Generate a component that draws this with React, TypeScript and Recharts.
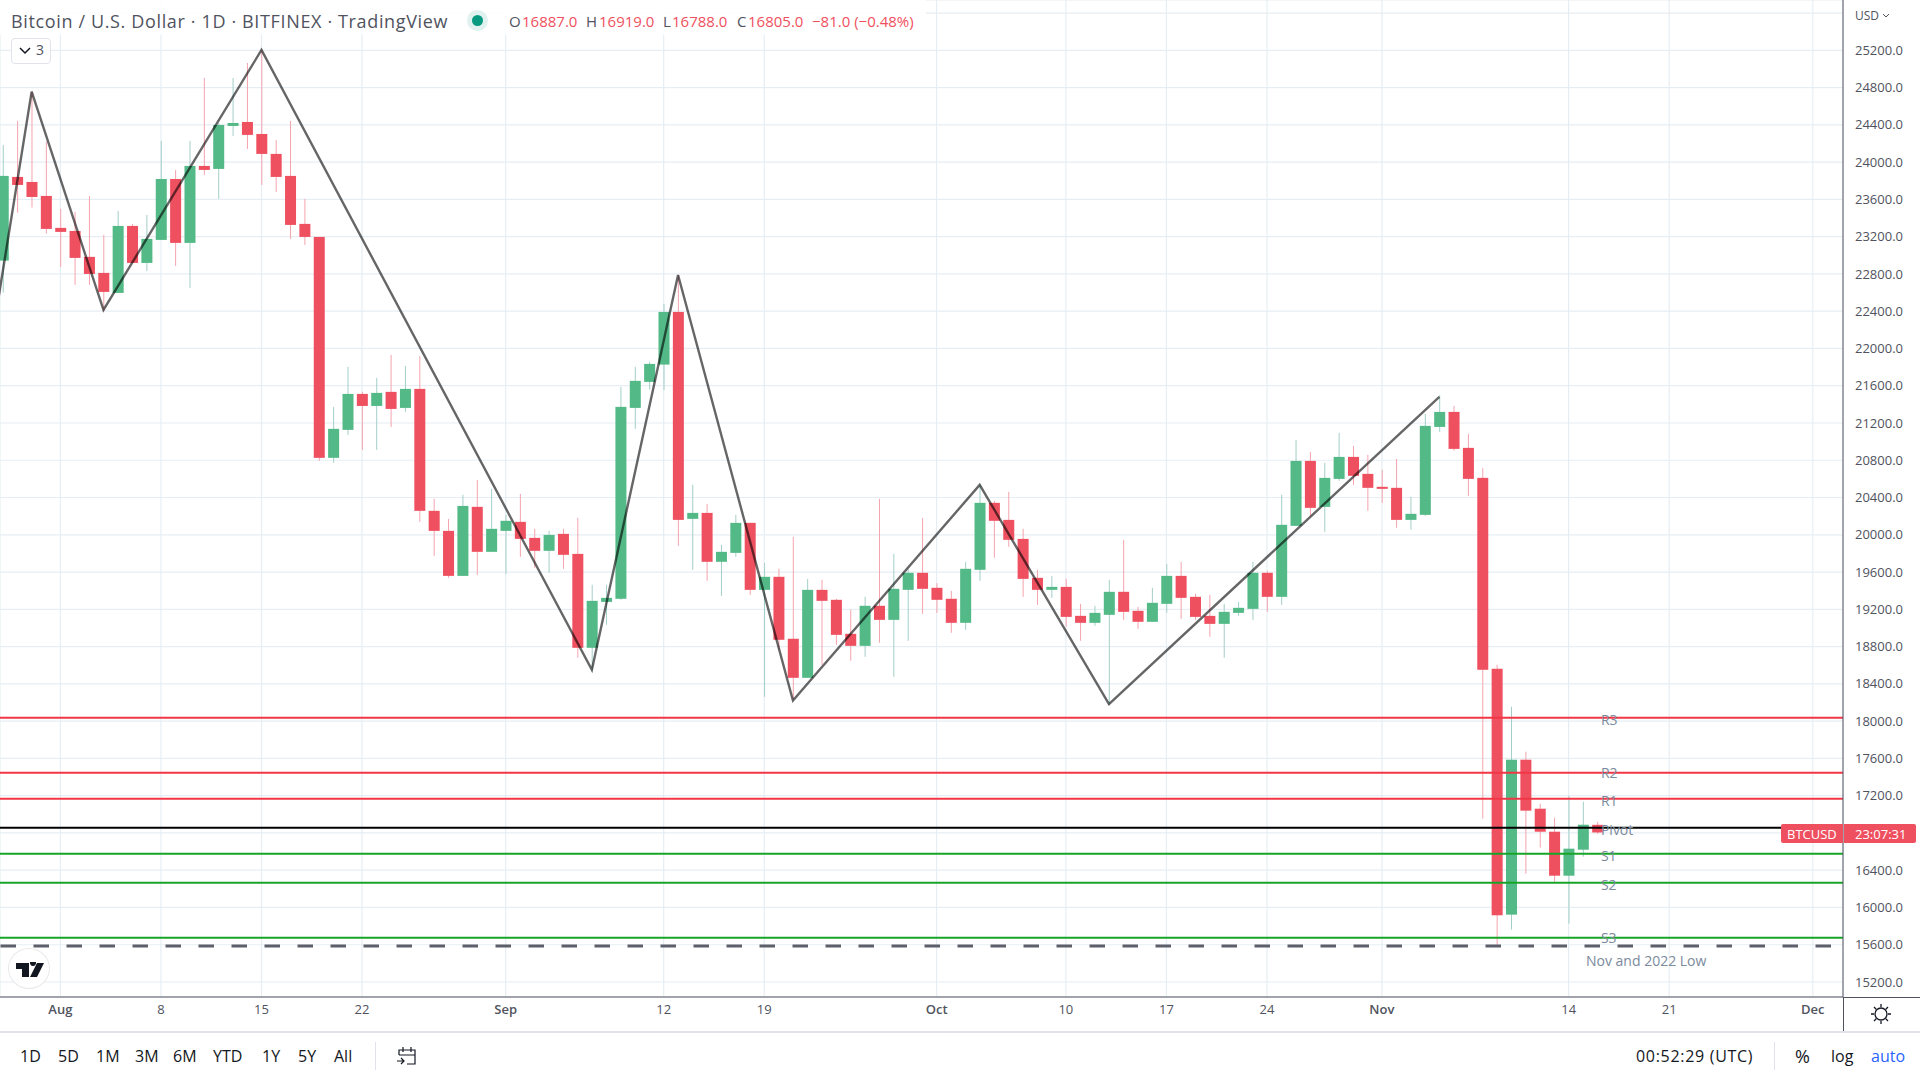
import React from "react";
import {
  ComposedChart,
  Bar,
  Line,
  XAxis,
  YAxis,
  CartesianGrid,
  ReferenceLine,
  ReferenceDot,
} from "recharts";

// day numbers count from 1 Aug 2022
const firstDay = -4;
const opens = [
  22943, 23841, 23787, 23637, 23294, 23261, 22983, 22811, 22596, 23315, 22918, 23165, 23819, 23133, 23959, 23927,
  24388, 24431, 24302, 24088, 23852, 23337, 23197, 20826, 21126, 21512, 21383, 21534, 21362, 21566, 20257, 20042,
  19559, 20300, 19817, 20042, 20139, 19967, 19828, 20010, 19795, 18787, 19280, 19313, 21362, 21641, 21827, 22392,
  20171, 20235, 19710, 19806, 20128, 19409, 19549, 18884, 18465, 19409, 19302, 18937, 18808, 19238, 19087, 19409,
  19592, 19431, 19313, 19055, 19624, 20343, 20160, 19956, 19538, 19409, 19441, 19130, 19055, 19141, 19388, 19184,
  19066, 19259, 19559, 19334, 19130, 19044, 19162, 19205, 19592, 19334, 20096, 20793, 20300, 20600, 20836, 20654,
  20515, 20504, 20160, 20214, 21158, 21319, 20933, 20611, 18562, 15923, 17586, 17060, 16813, 16341, 16620, 16887,
];
const highs = [
  24184, 24442, 24756, 24220, 23498, 23465, 23637, 23219, 23476, 23337, 23433, 24227, 23916, 24227, 24903, 24420,
  24903, 25064, 25204, 24238, 24442, 23605, 23197, 21373, 21802, 21534, 21684, 21931, 21813, 21920, 20386, 20171,
  20429, 20589, 20493, 20214, 20439, 20064, 20042, 20064, 20182, 19463, 19463, 21587, 21802, 21859, 22478, 22789,
  20536, 20332, 19892, 20214, 20128, 19699, 19635, 19978, 19527, 19517, 19313, 19195, 19334, 20386, 19795, 19630,
  20182, 19481, 19399, 19710, 20536, 20364, 20461, 20064, 19624, 19559, 19527, 19259, 19238, 19517, 19946, 19227,
  19431, 19688, 19710, 19366, 19355, 19259, 19280, 19710, 19613, 20429, 21019, 20890, 20772, 21094, 20954, 20858,
  20697, 20815, 20407, 21298, 21500, 21384, 21083, 20718, 18605, 18154, 17672, 17114, 16964, 17200, 17135, 16919,
];
const lows = [
  22600, 23458, 23512, 23233, 22875, 22682, 22682, 22403, 22596, 22918, 22832, 23165, 22886, 22650, 23862, 23605,
  24281, 24141, 23755, 23680, 23176, 23111, 20793, 20772, 21072, 20911, 20911, 21158, 21319, 20139, 19774, 19538,
  19559, 19570, 19817, 19581, 19763, 19645, 19592, 19635, 18680, 18551, 19034, 19302, 21137, 21560, 21555, 19881,
  19624, 19506, 19345, 19763, 19355, 18261, 18765, 18229, 18465, 18605, 18819, 18647, 18690, 18841, 18476, 18862,
  19152, 19163, 18948, 18980, 19506, 19753, 19871, 19334, 19248, 19323, 19016, 18862, 19023, 18175, 19087, 18991,
  19066, 19163, 19098, 19087, 18905, 18680, 19130, 19087, 19173, 19248, 20096, 20203, 20032, 20579, 20536, 20257,
  20343, 20075, 20053, 20203, 21105, 20901, 20418, 16953, 15583, 15762, 16363, 16642, 16277, 15826, 16545, 16788,
];
const closes = [
  23852, 23755, 23626, 23283, 23251, 22972, 22800, 22607, 23315, 22918, 23176, 23819, 23133, 23959, 23916, 24399,
  24420, 24292, 24088, 23841, 23326, 23197, 20826, 21137, 21512, 21383, 21523, 21351, 21566, 20257, 20042, 19559,
  20310, 19817, 20064, 20150, 19956, 19828, 19999, 19785, 18787, 19291, 19323, 21373, 21652, 21834, 22392, 20160,
  20235, 19710, 19817, 20128, 19409, 19549, 18873, 18465, 19409, 19291, 18926, 18808, 19238, 19087, 19420, 19592,
  19420, 19302, 19055, 19635, 20343, 20150, 19946, 19527, 19409, 19441, 19119, 19055, 19162, 19388, 19173, 19066,
  19270, 19559, 19323, 19119, 19044, 19173, 19216, 19592, 19334, 20107, 20793, 20289, 20611, 20836, 20633, 20504,
  20493, 20160, 20225, 21169, 21319, 20922, 20600, 18551, 15916, 17586, 17039, 16813, 16341, 16631, 16888, 16805,
];

// the first leg starts off the left edge, the axis clips it
const zigzagDays = [-5, -2, 3, 14, 37, 43, 51, 64, 73, 96];
const zigzagValues = [21879, 24756, 22414, 25204, 18551, 22789, 18222, 20536, 18183, 21480];

const levelNames = ["R3", "R2", "R1", "Pivot", "S1", "S2", "S3"];
const levelValues = [18036, 17446, 17167, 16856, 16577, 16266, 15676];
const levelColors = ["#f23645", "#f23645", "#f23645", "#000000", "#17a528", "#17a528", "#17a528"];
const lowLevel = 15587;
const lowLabel = "Nov and 2022 Low";

const priceTicks = [
  15200, 15600, 16000, 16400, 16800, 17200, 17600, 18000, 18400, 18800, 19200, 19600, 20000, 20400, 20800, 21200,
  21600, 22000, 22400, 22800, 23200, 23600, 24000, 24400, 24800, 25200, 25600,
];
const dateTicks = [0, 7, 14, 21, 31, 42, 49, 61, 70, 77, 84, 92, 105, 112, 122];
const dateLabels = ["Aug", "8", "15", "22", "Sep", "12", "19", "Oct", "10", "17", "24", "Nov", "14", "21", "Dec"];
const monthLabels = ["Aug", "Sep", "Oct", "Nov", "Dec"];
const ranges = ["1D", "5D", "1M", "3M", "6M", "YTD", "1Y", "5Y", "All"];

const candles = opens.map((open, i) => ({
  day: firstDay + i,
  open,
  high: highs[i],
  low: lows[i],
  close: closes[i],
}));
const zigzag = zigzagDays.map((day, i) => ({ day, value: zigzagValues[i] }));

const UP = "#53b987";
const DOWN = "#ef5060";
const FONT = "'Open Sans', sans-serif";
const LABEL = "#7b8a9c";
const TEXT = "#50535e";

// ── Candle: wick and body worked out from the bar's own pixel box ──
function Candle(props: any) {
  const { x, y, width, height, payload } = props;
  if (!payload || payload.high === payload.low) return null;
  const perUnit = height / (payload.high - payload.low);
  const top = y + (payload.high - Math.max(payload.open, payload.close)) * perUnit;
  const bottom = y + (payload.high - Math.min(payload.open, payload.close)) * perUnit;
  const up = payload.close >= payload.open;
  return (
    <g>
      <rect x={x + width / 2 - 0.5} y={y} width={1} height={height} fill={up ? "#a3cfc8" : "#f5a3af"} />
      <rect x={x} y={top} width={width} height={Math.max(bottom - top, 1)} fill={up ? UP : DOWN} />
    </g>
  );
}

function DateTick({ x, y, payload }: any) {
  const label = dateLabels[dateTicks.indexOf(payload.value)];
  return (
    <text
      x={x}
      y={y}
      dy={5}
      textAnchor="middle"
      fontFamily={FONT}
      fontSize={13}
      fontWeight={monthLabels.includes(label) ? 600 : 400}
      fill={TEXT}
    >
      {label}
    </text>
  );
}

function Txt({ x, y, color = TEXT, size = 15, weight = 400, spacing = 0, children }: any) {
  return (
    <span
      style={{
        position: "absolute",
        left: x,
        top: y,
        color,
        fontSize: size,
        fontWeight: weight,
        letterSpacing: spacing,
        lineHeight: "20px",
        whiteSpace: "nowrap",
      }}
    >
      {children}
    </span>
  );
}

function Box({ x, y, w, h, style }: any) {
  return <div style={{ position: "absolute", left: x, top: y, width: w, height: h, ...style }} />;
}

export default function App() {
  return (
    <div
      style={{
        position: "absolute",
        left: 0,
        top: 0,
        width: 1920,
        height: 1080,
        background: "#fff",
        overflow: "hidden",
        fontFamily: FONT,
      }}
    >
      <ComposedChart
        width={1920}
        height={1080}
        data={candles}
        margin={{ top: 0, right: 0, bottom: 0, left: 0 }}
      >
        <CartesianGrid stroke="#e6eef3" strokeWidth={1.2} />
        <XAxis
          dataKey="day"
          type="number"
          domain={[-4.204, 124.1]}
          allowDataOverflow
          ticks={dateTicks}
          height={83}
          interval={0}
          stroke="#50535e"
          tickLine={false}
          tickSize={0}
          tickMargin={12}
          tick={<DateTick />}
        />
        <YAxis
          orientation="right"
          type="number"
          domain={[15039, 25740]}
          allowDataOverflow
          ticks={priceTicks}
          width={77}
          interval={0}
          stroke="#50535e"
          tickLine={false}
          tickSize={0}
          tickMargin={12}
          tick={{ fontFamily: FONT, fontSize: 13, fill: TEXT }}
          tickFormatter={(v: number) => (v > 25200 ? "" : v.toFixed(1))}
        />
        <Bar dataKey={(d: any) => [d.low, d.high]} barSize={11} shape={<Candle />} isAnimationActive={false} />
        <Line
          data={zigzag}
          dataKey="value"
          stroke="#000"
          strokeOpacity={0.6}
          strokeWidth={2.4}
          dot={false}
          isAnimationActive={false}
        />
        {levelValues.map((v, i) => (
          <ReferenceLine key={levelNames[i]} y={v} stroke={levelColors[i]} strokeWidth={2} />
        ))}
        <ReferenceLine y={lowLevel} stroke="#5d606b" strokeWidth={3} strokeDasharray="15.5 17.5" strokeDashoffset={21} />
        {levelValues.map((v, i) => (
          <ReferenceDot
            key={levelNames[i]}
            x={106.9}
            y={v}
            r={0}
            stroke="none"
            label={{
              value: levelNames[i],
              position: "right",
              dy: levelNames[i] === "R2" || levelNames[i] === "S3" ? 0 : 2,
              fill: LABEL,
              fontSize: 14,
              fontFamily: FONT,
            }}
          />
        ))}
        <ReferenceDot
          x={110.4}
          y={15430}
          r={0}
          stroke="none"
          label={{ value: lowLabel, position: "center", fill: LABEL, fontSize: 14, fontFamily: FONT }}
        />
      </ComposedChart>

      {/* legend strip */}
      <Box x={0} y={0} w={926} h={35} style={{ background: "rgba(255,255,255,0.9)" }} />
      <Txt x={11} y={11} size={18} spacing={0.64}>Bitcoin / U.S. Dollar · 1D · BITFINEX · TradingView</Txt>
      <Box x={467} y={10} w={21} h={21} style={{ background: "#dff2ef", borderRadius: "50%" }} />
      <Box x={472} y={15} w={11} h={11} style={{ background: "#089981", borderRadius: "50%" }} />
      <Txt x={509} y={11}>O</Txt>
      <Txt x={522} y={11} color={DOWN}>16887.0</Txt>
      <Txt x={586} y={11}>H</Txt>
      <Txt x={599} y={11} color={DOWN}>16919.0</Txt>
      <Txt x={663} y={11}>L</Txt>
      <Txt x={672} y={11} color={DOWN}>16788.0</Txt>
      <Txt x={737} y={11}>C</Txt>
      <Txt x={748} y={11} color={DOWN}>16805.0</Txt>
      <Txt x={812} y={11} color={DOWN}>−81.0 (−0.48%)</Txt>

      {/* collapsed studies button */}
      <Box x={11} y={38} w={38} h={24} style={{ border: "1px solid #e0e3eb", borderRadius: 4, background: "#fff" }} />
      <svg style={{ position: "absolute", left: 19, top: 46 }} width={12} height={10}>
        <path d="M1 2 L6 7 L11 2" fill="none" stroke="#131722" strokeWidth={1.5} />
      </svg>
      <Txt x={36} y={40} size={14}>3</Txt>

      {/* logo */}
      <Box
        x={8}
        y={948}
        w={42}
        h={41}
        style={{ borderRadius: "50%", background: "#fff", border: "1px solid #e8e8e8", boxSizing: "border-box" }}
      />
      <svg style={{ position: "absolute", left: 15, top: 962 }} width={30} height={16}>
        <path d="M1 1 H14 V15 H7 V7 H1 Z M18 4 a3 3 0 1 1 0.01 0 Z M22 1 H29 L22 15 H15 Z" fill="#131722" />
      </svg>

      {/* price axis extras */}
      <Box x={1843} y={997} w={1} h={35} style={{ background: "#50535e" }} />
      <Box x={1843} y={997} w={77} h={1} style={{ background: "#50535e" }} />
      <Box x={0} y={1031} w={1920} h={2} style={{ background: "#e0e3eb" }} />
      <Txt x={1855} y={6} size={12}>USD</Txt>
      <svg style={{ position: "absolute", left: 1882, top: 13 }} width={8} height={6}>
        <path d="M1 1 L4 4 L7 1" fill="none" stroke={TEXT} strokeWidth={1} />
      </svg>
      <svg style={{ position: "absolute", left: 1870, top: 1003 }} width={22} height={22}>
        <circle cx={11} cy={11} r={6} fill="none" stroke="#131722" strokeWidth={1.3} />
        <path
          d="M11 1 V4 M11 18 V21 M1 11 H4 M18 11 H21 M4 4 L6.2 6.2 M15.8 15.8 L18 18 M18 4 L15.8 6.2 M6.2 15.8 L4 18"
          stroke="#131722"
          strokeWidth={1.3}
        />
      </svg>

      {/* price badges */}
      <Box x={1781} y={824} w={62} h={19} style={{ background: DOWN, borderRadius: "2px 0 0 2px" }} />
      <Box x={1844} y={824} w={72} h={19} style={{ background: DOWN, borderRadius: "0 2px 2px 0" }} />
      <Txt x={1787} y={824} size={13} color="#fff">BTCUSD</Txt>
      <Txt x={1855} y={824} size={13} color="#fff">23:07:31</Txt>

      {/* bottom toolbar */}
      {ranges.map((r, i) => (
        <Txt key={r} x={[20, 58, 96, 135, 173, 213, 262, 298, 334][i]} y={1046} size={16} color="#131722">
          {r}
        </Txt>
      ))}
      <Box x={375} y={1042} w={1} h={28} style={{ background: "#e0e3eb" }} />
      <svg style={{ position: "absolute", left: 396, top: 1046 }} width={22} height={20}>
        <path
          d="M3 9 V4 H19 V18 H11 M3 9 H19 M7 1 V6 M15 1 V6 M1 15 H8 M5 12 L8 15 L5 18"
          fill="none"
          stroke="#131722"
          strokeWidth={1.2}
        />
      </svg>
      <Txt x={1636} y={1046} size={16} spacing={0.7} color="#131722">00:52:29 (UTC)</Txt>
      <Box x={1774} y={1042} w={1} h={28} style={{ background: "#e0e3eb" }} />
      <Txt x={1795} y={1046} size={18} color="#131722">%</Txt>
      <Txt x={1831} y={1046} size={16} color="#131722">log</Txt>
      <Txt x={1871} y={1046} size={16} color="#2962ff">auto</Txt>
    </div>
  );
}
